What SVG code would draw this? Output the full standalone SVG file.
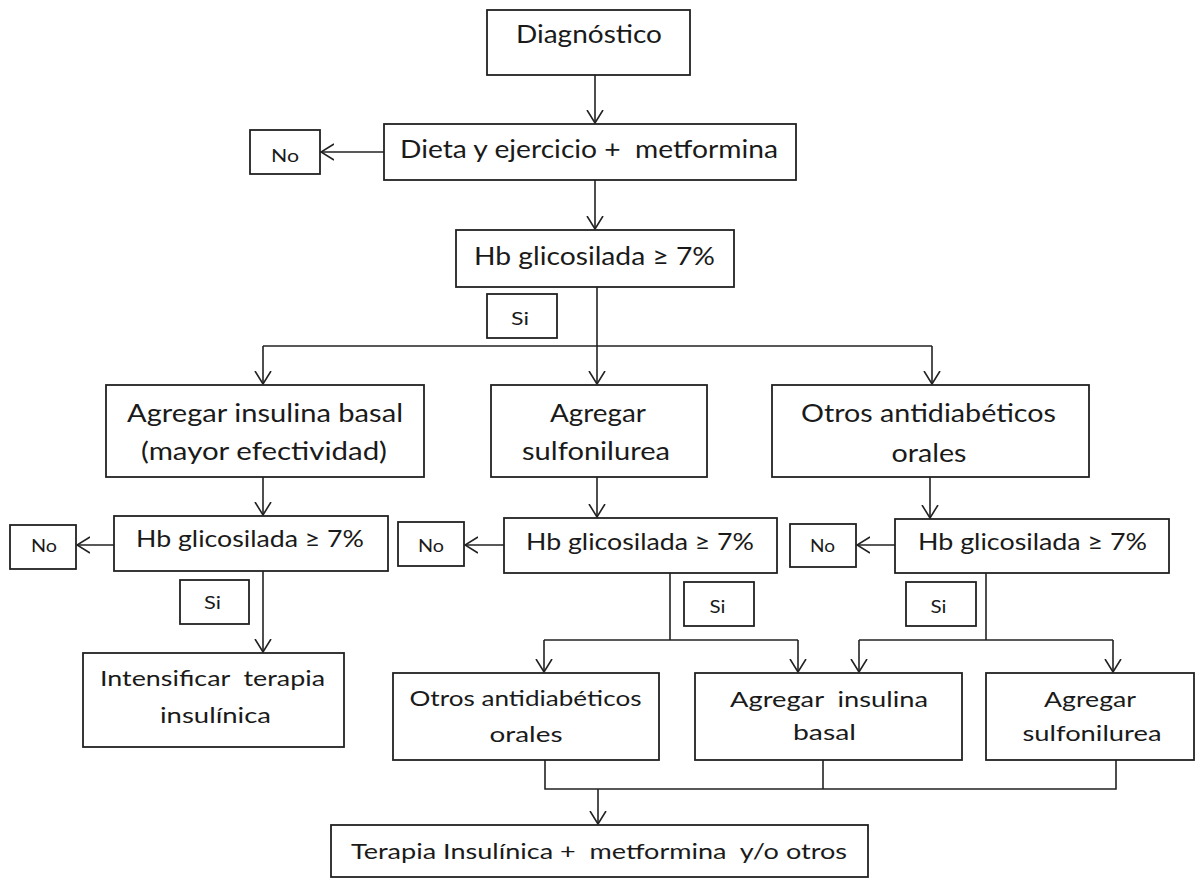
<svg xmlns="http://www.w3.org/2000/svg" width="1196" height="878" viewBox="0 0 1196 878">
<defs>
<marker id="ah" viewBox="0 0 14 18" refX="13" refY="9" markerWidth="14" markerHeight="18" markerUnits="userSpaceOnUse" orient="auto">
<path d="M0,1 L13,9 L0,17" fill="none" stroke="#222" stroke-width="1.6"/>
</marker>
<style>
rect{fill:#fff;stroke:#222;stroke-width:1.8}
text{font-family:Lato,"Liberation Sans",sans-serif;fill:#1a1a1a;text-anchor:middle;white-space:pre}
.b{font-size:25px}
.m{font-size:23px}
.s{font-size:22px}
.t{font-size:17px}
#connectors line,#connectors polyline{stroke:#222;stroke-width:1.6;fill:none}
.a{marker-end:url(#ah)}
</style>
</defs>
<rect x="0" y="0" width="1196" height="878" style="fill:#fff;stroke:none"/>

<g id="connectors">
<line class="a" x1="595" y1="75" x2="595" y2="123"/>
<line class="a" x1="384" y1="152" x2="321" y2="152"/>
<line class="a" x1="595" y1="180" x2="595" y2="229"/>
<line x1="597" y1="287" x2="597" y2="346"/>
<line x1="263" y1="346" x2="932" y2="346"/>
<line class="a" x1="263" y1="346" x2="263" y2="384"/>
<line class="a" x1="597" y1="346" x2="597" y2="384"/>
<line class="a" x1="932" y1="346" x2="932" y2="384"/>
<line class="a" x1="263" y1="477" x2="263" y2="515"/>
<line class="a" x1="114" y1="545" x2="77" y2="545"/>
<line class="a" x1="263" y1="571" x2="263" y2="652"/>
<line class="a" x1="597" y1="477" x2="597" y2="517"/>
<line class="a" x1="504" y1="545" x2="465" y2="545"/>
<line x1="670" y1="573" x2="670" y2="640"/>
<line x1="544" y1="640" x2="798" y2="640"/>
<line class="a" x1="544" y1="640" x2="544" y2="672"/>
<line class="a" x1="798" y1="640" x2="798" y2="672"/>
<line class="a" x1="930" y1="477" x2="930" y2="518"/>
<line class="a" x1="895" y1="545" x2="857" y2="545"/>
<line x1="986" y1="573" x2="986" y2="640"/>
<line x1="859" y1="640" x2="1113" y2="640"/>
<line class="a" x1="859" y1="640" x2="859" y2="672"/>
<line class="a" x1="1113" y1="640" x2="1113" y2="672"/>
<polyline points="545,760 545,789 1116,789 1116,760"/>
<line x1="823" y1="760" x2="823" y2="789"/>
<line class="a" x1="598" y1="789" x2="598" y2="824"/>
</g>

<g id="diagnostico">
<rect x="487" y="10" width="203" height="65"/>
<text class="b" x="589" y="43" textLength="146" lengthAdjust="spacingAndGlyphs">Diagnóstico</text>
</g>
<g id="dieta">
<rect x="384" y="124" width="412" height="56"/>
<text class="b" x="589" y="158" textLength="378" lengthAdjust="spacingAndGlyphs">Dieta y ejercicio +  metformina</text>
</g>
<g id="no-top">
<rect x="250" y="130" width="70" height="44"/>
<text class="t" x="285" y="162" textLength="28" lengthAdjust="spacingAndGlyphs">No</text>
</g>
<g id="hb-top">
<rect x="456" y="230" width="278" height="57"/>
<text class="b" x="594.5" y="265" textLength="241" lengthAdjust="spacingAndGlyphs">Hb glicosilada ≥ 7%</text>
</g>
<g id="si-top">
<rect x="487" y="294" width="70" height="44"/>
<text class="t" x="520" y="325" textLength="18" lengthAdjust="spacingAndGlyphs">Si</text>
</g>

<g id="insulina-basal">
<rect x="106" y="385" width="318" height="92"/>
<text class="b" x="265" y="422" textLength="276" lengthAdjust="spacingAndGlyphs">Agregar insulina basal</text>
<text class="b" x="264" y="460" textLength="246" lengthAdjust="spacingAndGlyphs">(mayor efectividad)</text>
</g>
<g id="sulfonilurea">
<rect x="491" y="385" width="216" height="92"/>
<text class="b" x="598" y="422" textLength="96" lengthAdjust="spacingAndGlyphs">Agregar</text>
<text class="b" x="596" y="460" textLength="148" lengthAdjust="spacingAndGlyphs">sulfonilurea</text>
</g>
<g id="otros">
<rect x="772" y="385" width="317" height="92"/>
<text class="b" x="928.5" y="422" textLength="255" lengthAdjust="spacingAndGlyphs">Otros antidiabéticos</text>
<text class="b" x="929" y="462" textLength="75" lengthAdjust="spacingAndGlyphs">orales</text>
</g>

<g id="hb-left">
<rect x="114" y="516" width="274" height="55"/>
<text class="m" x="250" y="547" textLength="228" lengthAdjust="spacingAndGlyphs">Hb glicosilada ≥ 7%</text>
</g>
<g id="no-left">
<rect x="10" y="525" width="66" height="44"/>
<text class="t" x="44" y="552" textLength="26" lengthAdjust="spacingAndGlyphs">No</text>
</g>
<g id="si-left">
<rect x="180" y="580" width="69" height="44"/>
<text class="t" x="212.5" y="609" textLength="17" lengthAdjust="spacingAndGlyphs">Si</text>
</g>
<g id="intensificar">
<rect x="83" y="653" width="261" height="94"/>
<text class="s" x="212.5" y="686" textLength="225" lengthAdjust="spacingAndGlyphs">Intensificar  terapia</text>
<text class="s" x="215.5" y="723" textLength="111" lengthAdjust="spacingAndGlyphs">insulínica</text>
</g>

<g id="hb-mid">
<rect x="504" y="518" width="273" height="55"/>
<text class="m" x="640" y="550" textLength="228" lengthAdjust="spacingAndGlyphs">Hb glicosilada ≥ 7%</text>
</g>
<g id="no-mid">
<rect x="398" y="522" width="66" height="44"/>
<text class="t" x="431" y="552" textLength="26" lengthAdjust="spacingAndGlyphs">No</text>
</g>
<g id="si-mid">
<rect x="684" y="582" width="70" height="44"/>
<text class="t" x="717.5" y="613" textLength="16" lengthAdjust="spacingAndGlyphs">Si</text>
</g>

<g id="hb-right">
<rect x="895" y="519" width="274" height="54"/>
<text class="m" x="1032.5" y="550" textLength="229" lengthAdjust="spacingAndGlyphs">Hb glicosilada ≥ 7%</text>
</g>
<g id="no-right">
<rect x="790" y="524" width="66" height="43"/>
<text class="t" x="822.5" y="552" textLength="25" lengthAdjust="spacingAndGlyphs">No</text>
</g>
<g id="si-right">
<rect x="906" y="582" width="70" height="44"/>
<text class="t" x="938.5" y="613" textLength="16" lengthAdjust="spacingAndGlyphs">Si</text>
</g>

<g id="otros-bottom">
<rect x="393" y="673" width="266" height="87"/>
<text class="s" x="525.5" y="706" textLength="232" lengthAdjust="spacingAndGlyphs">Otros antidiabéticos</text>
<text class="s" x="526" y="742" textLength="73" lengthAdjust="spacingAndGlyphs">orales</text>
</g>
<g id="insulina-basal-bottom">
<rect x="695" y="673" width="267" height="87"/>
<text class="s" x="829" y="707" textLength="198" lengthAdjust="spacingAndGlyphs">Agregar  insulina</text>
<text class="s" x="824.5" y="740" textLength="63" lengthAdjust="spacingAndGlyphs">basal</text>
</g>
<g id="sulfonilurea-bottom">
<rect x="986" y="673" width="208" height="87"/>
<text class="s" x="1090" y="707" textLength="92" lengthAdjust="spacingAndGlyphs">Agregar</text>
<text class="s" x="1092" y="741" textLength="139" lengthAdjust="spacingAndGlyphs">sulfonilurea</text>
</g>

<g id="terapia">
<rect x="331" y="825" width="537" height="52"/>
<text class="s" x="599" y="859" textLength="496" lengthAdjust="spacingAndGlyphs">Terapia Insulínica +  metformina  y/o otros</text>
</g>
</svg>
